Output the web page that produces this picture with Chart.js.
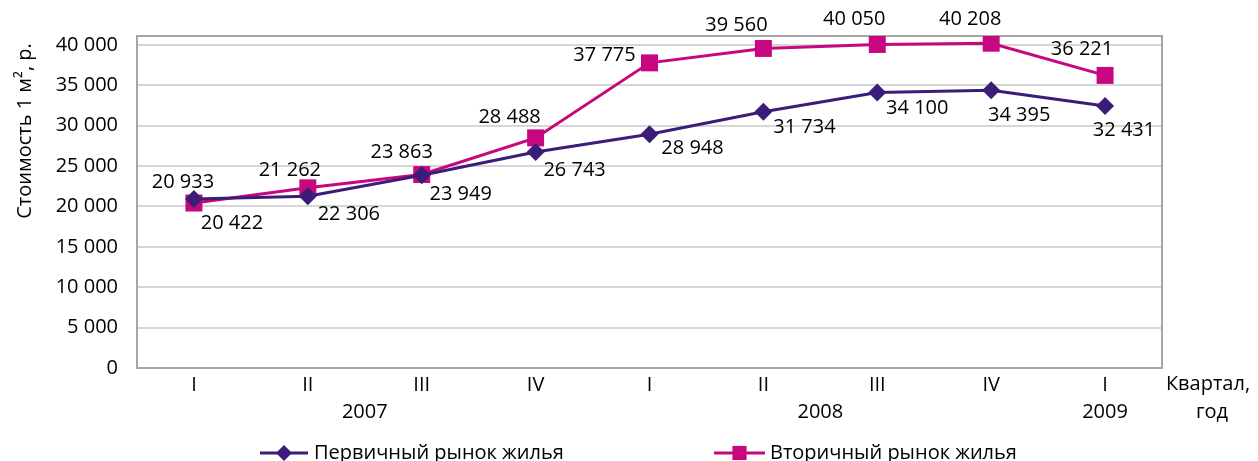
<!DOCTYPE html>
<html lang="ru">
<head>
    <meta charset="UTF-8">
    <title>Стоимость 1 м² жилья</title>
    <style>
        * { margin: 0; padding: 0; box-sizing: border-box; }
        body { background: #fff; width: 1258px; height: 461px; overflow: hidden; }
    </style>
    <script src="https://cdn.jsdelivr.net/npm/chart.js"></script>
</head>
<body>
    <canvas id="priceChart" width="1258" height="461"></canvas>

    <script>
        // Data
        const quarters = ['I', 'II', 'III', 'IV', 'I', 'II', 'III', 'IV', 'I'];
        const years = ['2007', '2008', '2009'];
        const yearSpans = [[0, 3], [4, 7], [8, 8]];
        const primaryMarket = [20933, 21262, 23863, 26743, 28948, 31734, 34100, 34395, 32431];
        const secondaryMarket = [20422, 22306, 23949, 28488, 37775, 39560, 40050, 40208, 36221];
        const yTicks = [0, 5000, 10000, 15000, 20000, 25000, 30000, 35000, 40000];

        const PURPLE = '#3b1c78';
        const MAGENTA = '#c6077f';
        const FONT = '"Open Sans", sans-serif';
        const FONT_SIZE = 20;

        // label offsets (px) from each point
        const primaryOffsets = [[-11, -17], [-18, -26], [-20, -23], [39, 18], [43, 14], [41, 16], [40, 16], [28, 25], [19, 24]];
        const secondaryOffsets = [[38, 20], [41, 26], [39, 20], [-26, -21], [-45, -8], [-27, -23], [-23, -25], [-21, -24], [-23, -26]];

        function fmt(v) {
            return String(v).replace(/\B(?=(\d{3})+(?!\d))/g, ' ');
        }

        const extras = {
            id: 'extras',
            beforeDatasetsDraw(chart) {
                // frame around the plot area
                const a = chart.chartArea;
                const ctx = chart.ctx;
                ctx.save();
                ctx.strokeStyle = '#a6a6a6';
                ctx.lineWidth = 2;
                ctx.strokeRect(a.left, a.top, a.right - a.left, a.bottom - a.top);
                ctx.restore();
            },
            afterDraw(chart) {
                const ctx = chart.ctx;
                const xs = chart.scales.x;
                ctx.save();
                ctx.fillStyle = '#000';
                ctx.font = FONT_SIZE + 'px ' + FONT;
                ctx.textAlign = 'center';
                ctx.textBaseline = 'middle';

                // value labels
                [[0, primaryMarket, primaryOffsets], [1, secondaryMarket, secondaryOffsets]].forEach(([di, vals, offs]) => {
                    chart.getDatasetMeta(di).data.forEach((pt, i) => {
                        ctx.fillText(fmt(vals[i]), pt.x + offs[i][0], pt.y + offs[i][1]);
                    });
                });

                // years under the quarters
                years.forEach((y, i) => {
                    const x = (xs.getPixelForValue(yearSpans[i][0]) + xs.getPixelForValue(yearSpans[i][1])) / 2;
                    ctx.fillText(y, x, 412);
                });

                // x axis title
                ctx.fillText('Квартал,', 1208, 384);
                ctx.fillText('год', 1212, 412);

                // y axis title
                ctx.save();
                ctx.translate(25, 131);
                ctx.rotate(-Math.PI / 2);
                ctx.fillText('Стоимость 1 м², р.', 0, 0);
                ctx.restore();

                // legend
                const items = [
                    { label: 'Первичный рынок жилья', color: PURPLE, style: 'rectRot', r: 8, x0: 260, x1: 308, tx: 314 },
                    { label: 'Вторичный рынок жилья', color: MAGENTA, style: 'rect', r: 10, x0: 714, x1: 765, tx: 770 }
                ];
                const ly = 453;
                items.forEach(it => {
                    ctx.strokeStyle = it.color;
                    ctx.fillStyle = it.color;
                    ctx.lineWidth = 3;
                    ctx.beginPath();
                    ctx.moveTo(it.x0, ly);
                    ctx.lineTo(it.x1, ly);
                    ctx.stroke();
                    Chart.helpers.drawPoint(ctx, { pointStyle: it.style, radius: it.r, borderWidth: 0 }, (it.x0 + it.x1) / 2, ly);
                    ctx.fillStyle = '#000';
                    ctx.textAlign = 'left';
                    ctx.fillText(it.label, it.tx, ly);
                });
                ctx.restore();
            }
        };

        new Chart(document.getElementById('priceChart'), {
            type: 'line',
            data: {
                labels: quarters,
                datasets: [
                    {
                        label: 'Первичный рынок жилья',
                        data: primaryMarket,
                        borderColor: PURPLE,
                        backgroundColor: PURPLE,
                        borderWidth: 3,
                        pointStyle: 'rectRot',
                        pointRadius: 9,
                        pointBorderWidth: 0,
                        tension: 0
                    },
                    {
                        label: 'Вторичный рынок жилья',
                        data: secondaryMarket,
                        borderColor: MAGENTA,
                        backgroundColor: MAGENTA,
                        borderWidth: 3,
                        pointStyle: 'rect',
                        pointRadius: 12,
                        pointBorderWidth: 0,
                        tension: 0
                    }
                ]
            },
            options: {
                responsive: false,
                animation: false,
                layout: { padding: { top: 36, right: 96, left: 0, bottom: 0 } },
                plugins: {
                    legend: { display: false },
                    tooltip: { enabled: false }
                },
                scales: {
                    x: {
                        offset: true,
                        grid: { display: false, drawTicks: false },
                        border: { display: false },
                        ticks: {
                            color: '#000',
                            font: { family: FONT, size: FONT_SIZE },
                            padding: 5
                        },
                        afterFit(scale) { scale.height = 93; }
                    },
                    y: {
                        min: 0,
                        max: 41100,
                        grid: { color: '#d6d6d6', lineWidth: 2, drawTicks: false },
                        border: { display: false },
                        afterBuildTicks(scale) { scale.ticks = yTicks.map(v => ({ value: v })); },
                        ticks: {
                            color: '#000',
                            font: { family: FONT, size: FONT_SIZE },
                            padding: 19,
                            callback: v => fmt(v)
                        },
                        afterFit(scale) { scale.width = 137; }
                    }
                }
            },
            plugins: [extras]
        });
    </script>
</body>
</html>
